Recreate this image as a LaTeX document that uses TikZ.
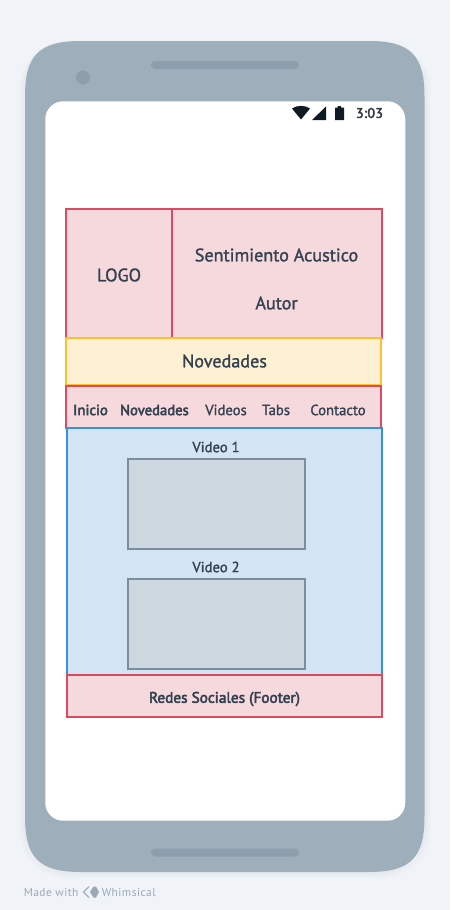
\documentclass[tikz,border=0pt]{standalone}
\usepackage{fontspec}
\setmainfont{PT Sans}
\newfontfamily\medfont[FakeBold=1.4]{PT Sans}
\newfontfamily\semifont[FakeBold=3.2]{PT Sans}
\definecolor{bgc}{HTML}{F0F4F8}
\definecolor{phonec}{HTML}{9FAEBB}
\definecolor{phonedk}{HTML}{8D9EAD}
\definecolor{ink}{HTML}{334150}
\definecolor{redl}{HTML}{DC4A62}
\definecolor{redf}{HTML}{F6D9DD}
\definecolor{yell}{HTML}{FFC02D}
\definecolor{yelf}{HTML}{FEF1D3}
\definecolor{blul}{HTML}{3A8FDC}
\definecolor{bluf}{HTML}{D3E4F5}
\definecolor{gryl}{HTML}{7B8D9C}
\definecolor{gryf}{HTML}{CCD7E0}
\definecolor{iconc}{HTML}{101A22}
\definecolor{markc}{HTML}{9AA9B7}
\tikzset{
  x=0.75pt,y=-0.75pt,
  wirebox/.style={inner sep=0pt,outer sep=0pt,line width=1.5pt,anchor=north west},
  redbox/.style={wirebox,draw=redl,fill=redf},
  biglabel/.style={text=ink,inner sep=0pt,font=\medfont\fontsize{13.6pt}{16pt}\selectfont},
  smalllabel/.style={text=ink,inner sep=0pt,font=\medfont\fontsize{11pt}{13pt}\selectfont},
  boldlabel/.style={text=ink,inner sep=0pt,font=\semifont\fontsize{11pt}{13pt}\selectfont},
  footlabel/.style={text=ink,inner sep=0pt,font=\semifont\fontsize{11.45pt}{13pt}\selectfont},
  marklabel/.style={text=markc,inner sep=0pt,anchor=west,font=\fontsize{8.6pt}{10pt}\selectfont\addfontfeature{LetterSpace=4}},
  speaker/.style={fill=phonedk,rounded corners=3pt,minimum width=111pt,minimum height=6pt,inner sep=0pt},
}
\begin{document}
\begin{tikzpicture}
\useasboundingbox (0,0) rectangle (450,910);
\fill[bgc] (0,0) rectangle (450,910);
% soft shadow
\foreach \o/\a in {6/0.010,4/0.012,2/0.016}{
  \fill[black,opacity=\a,rounded corners=36pt] (25-\o,41) rectangle (424.5+\o,872+\o);
}
% phone
\fill[phonec] (25,97) .. controls (25,56) and (38,41) .. (81,41) -- (368.5,41)
  .. controls (411.5,41) and (424.5,56) .. (424.5,97) -- (424.5,816)
  .. controls (424.5,857) and (411.5,872) .. (368.5,872) -- (81,872)
  .. controls (38,872) and (25,857) .. (25,816) -- cycle;
\node[speaker] (speakertop) at (225,65) {};
\node[speaker] (speakerbot) at (225,852.5) {};
\node[fill=phonedk,circle,minimum size=10.5pt,inner sep=0pt] (camera) at (83,77.5) {};
\node[fill=white,rounded corners=13.5pt,minimum width=270pt,minimum height=539.6pt,inner sep=0pt,anchor=north west] (screen) at (45,101) {};
% status bar
\fill[iconc] (292,108.5) .. controls (297,105) and (305,105) .. (310,108.5) -- (301,119.5) -- cycle;
\fill[iconc] (326,106.5) -- (326,120) -- (312,120) -- cycle;
\fill[iconc] (335,107.5) -- (337.5,107.5) -- (337.5,106) -- (341,106) -- (341,107.5) -- (344,107.5) -- (344,120) -- (335,120) -- cycle;
\node[text=iconc!85!white,inner sep=0pt,font=\semifont\fontsize{10.4pt}{12pt}\selectfont\addfontfeature{LetterSpace=3}] (clock) at (369.5,113) {3:03};
% boxes
\node[redbox,minimum width=79.5pt,minimum height=96.75pt] (logo) at (66,209) {};
\node[redbox,minimum width=157.5pt,minimum height=96.75pt] (title) at (172,209) {};
\node[wirebox,draw=yell,fill=yelf,minimum width=236.25pt,minimum height=35.6pt] (news) at (66,338) {};
\node[redbox,minimum width=236.25pt,minimum height=31.5pt] (nav) at (66,386) {};
\node[wirebox,draw=blul,fill=bluf,minimum width=236.25pt,minimum height=185.25pt] (main) at (67,428) {};
\node[redbox,minimum width=236.25pt,minimum height=31.5pt] (footer) at (67,675) {};
\node[wirebox,draw=gryl,fill=gryf,minimum width=132.75pt,minimum height=67.5pt] (video1) at (128,459) {};
\node[wirebox,draw=gryl,fill=gryf,minimum width=132.75pt,minimum height=67.5pt] (video2) at (128,579) {};
% texts
\node[biglabel] (tlogo) at (119,275) {LOGO};
\node[biglabel] (ttitle) at (276.5,255) {Sentimiento Acustico};
\node[biglabel] (tautor) at (276.5,303) {Autor};
\node[biglabel] (tnews) at (224.5,361) {Novedades};
\node[boldlabel] (n1) at (90.5,410) {Inicio};
\node[boldlabel] (n2) at (154.5,410) {Novedades};
\node[smalllabel] (n3) at (226,410) {Videos};
\node[smalllabel] (n4) at (276,410) {Tabs};
\node[smalllabel] (n5) at (338,410) {Contacto};
\node[smalllabel] (v1) at (216,447) {Video 1};
\node[smalllabel] (v2) at (216,567) {Video 2};
\node[footlabel] (tfoot) at (224.5,699) {Redes Sociales (Footer)};
% watermark
\node[marklabel] (made) at (23.5,892) {Made with};
\node[marklabel] (whim) at (101.5,892) {Whimsical};
\fill[markc] (90,892) -- (93.5,886.5) -- (96,886.5) -- (99,892) -- (96,897.5) -- (93.5,897.5) -- cycle;
\draw[markc,line width=0.8pt] (89,886.5) -- (83.5,892) -- (89,897.5);
\end{tikzpicture}
\end{document}
